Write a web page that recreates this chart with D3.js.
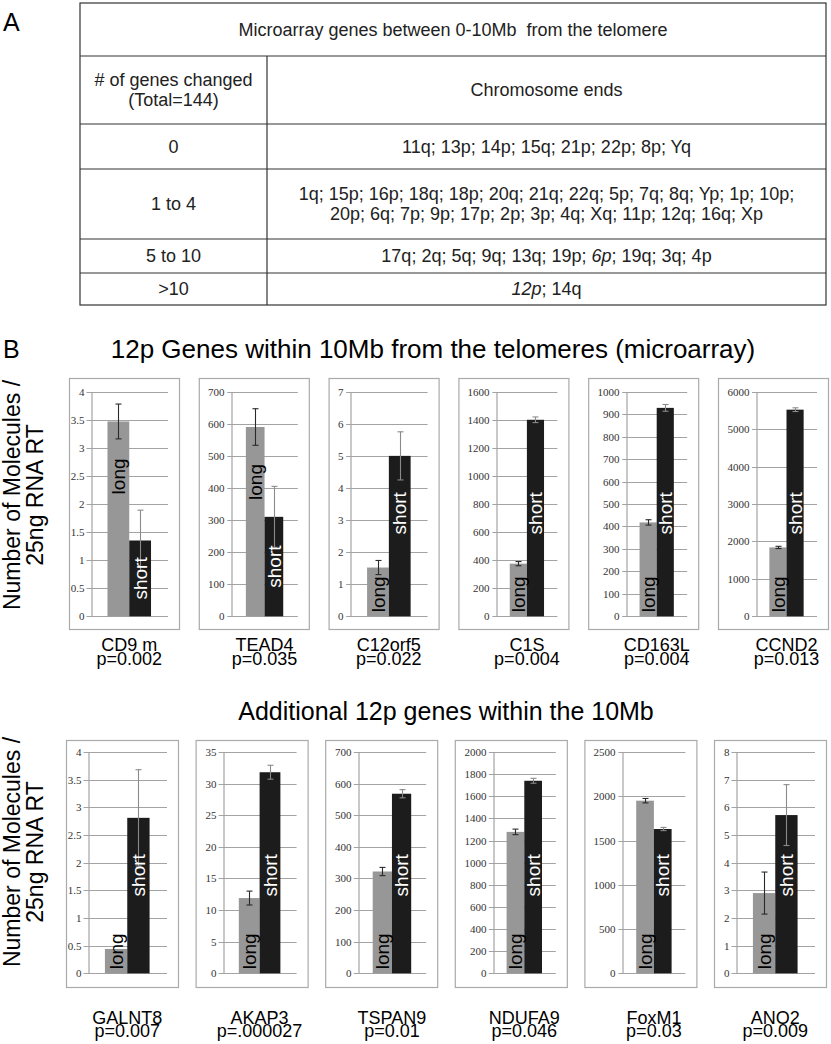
<!DOCTYPE html>
<html>
<head>
<meta charset="utf-8">
<script src="https://cdn.jsdelivr.net/npm/d3@7"></script>
<style>
  body { margin: 0; background: #fff; }
  svg { font-family: "Liberation Sans", Arial, sans-serif; }
</style>
</head>
<body>
<svg id="fig" width="831" height="1044"></svg>
<script>
// ---- panel A table ----
const tableTitle = "Microarray genes between 0-10Mb  from the telomere";
const colHeads = [["# of genes changed", "(Total=144)"], ["Chromosome ends"]];
const rowHeads = ["0", "1 to 4", "5 to 10", ">10"];
// _x_ marks italic text
const rowEnds = [
  ["11q; 13p; 14p; 15q; 21p; 22p; 8p; Yq"],
  ["1q; 15p; 16p; 18q; 18p; 20q; 21q; 22q; 5p; 7q; 8q; Yp; 1p; 10p;",
   "20p; 6q; 7p; 9p; 17p; 2p; 3p; 4q; Xq; 11p; 12q; 16q; Xp"],
  ["17q; 2q; 5q; 9q; 13q; 19p; _6p_; 19q; 3q; 4p"],
  ["_12p_; 14q"]
];

// ---- panel B, top row (microarray genes) ----
const topTitle = "12p Genes within 10Mb from the telomeres (microarray)";
const topGenes = ["CD9 m", "TEAD4", "C12orf5", "C1S", "CD163L", "CCND2"];
const topP = ["p=0.002", "p=0.035", "p=0.022", "p=0.004", "p=0.004", "p=0.013"];
const topLong = [3.47, 590, 1.52, 375, 418, 1840];
const topLongErr = [0.31, 57, 0.22, 15, 12, 30];
const topShort = [1.35, 310, 5.0, 1400, 928, 5520];
const topShortErr = [0.54, 95, 0.75, 20, 15, 50];
const topMax = [4, 700, 7, 1600, 1000, 6000];
const topStep = [0.5, 100, 1, 200, 100, 1000];

// ---- panel B, bottom row (additional genes) ----
const botTitle = "Additional 12p genes within the 10Mb";
const botGenes = ["GALNT8", "AKAP3", "TSPAN9", "NDUFA9", "FoxM1", "ANO2"];
const botP = ["p=0.007", "p=.000027", "p=0.01", "p=0.046", "p=0.03", "p=0.009"];
const botLong = [0.44, 11.9, 322, 1278, 1950, 2.9];
const botLongErr = [0, 1.1, 13, 25, 25, 0.76];
const botShort = [2.81, 31.8, 568, 1740, 1630, 5.72];
const botShortErr = [0.87, 1.1, 13, 22, 18, 1.1];
const botMax = [4, 35, 700, 2000, 2500, 8];
const botStep = [0.5, 5, 100, 200, 500, 1];

const series = ["long", "short"];
const yTitle = ["Number of Molecules /", "25ng RNA RT"];

const svg = d3.select("#fig");

// ---------- panel A ----------
svg.append("text").attr("x", 3).attr("y", 31).style("font-size", "25px").text("A");
svg.append("text").attr("x", 3).attr("y", 358).style("font-size", "25px").text("B");

const tx = [80, 267, 826];
const ty = [3, 56, 124, 169, 239, 273, 305];
const tab = svg.append("g").attr("stroke", "#333").attr("stroke-width", 1.2);
tab.append("rect").attr("x", tx[0]).attr("y", ty[0]).attr("width", tx[2] - tx[0]).attr("height", ty[6] - ty[0]).attr("fill", "none");
ty.slice(1, 6).forEach(y => tab.append("line").attr("x1", tx[0]).attr("x2", tx[2]).attr("y1", y).attr("y2", y));
tab.append("line").attr("x1", tx[1]).attr("x2", tx[1]).attr("y1", ty[1]).attr("y2", ty[6]);

const tfs = 18;
function cellText(lines, cx, y0, y1) {
  const lh = 20;
  const mid = (y0 + y1) / 2 - (lines.length - 1) * lh / 2;
  lines.forEach((ln, i) => {
    const t = svg.append("text").attr("x", cx).attr("y", mid + i * lh).attr("dy", "0.35em")
      .attr("text-anchor", "middle").style("font-size", tfs + "px").style("white-space", "pre").attr("fill", "#222");
    ln.split(/(_[^_]+_)/).filter(s => s.length).forEach(s => {
      if (s[0] === "_") t.append("tspan").style("font-style", "italic").text(s.slice(1, -1));
      else t.append("tspan").text(s);
    });
  });
}
cellText([tableTitle], (tx[0] + tx[2]) / 2, ty[0], ty[1]);
cellText(colHeads[0], (tx[0] + tx[1]) / 2, ty[1], ty[2]);
cellText(colHeads[1], (tx[1] + tx[2]) / 2, ty[1], ty[2]);
rowHeads.forEach((h, i) => {
  cellText([h], (tx[0] + tx[1]) / 2, ty[i + 2], ty[i + 3]);
  cellText(rowEnds[i], (tx[1] + tx[2]) / 2, ty[i + 2], ty[i + 3]);
});

// ---------- panel B ----------
svg.append("text").attr("x", 433).attr("y", 358).attr("text-anchor", "middle")
  .style("font-size", "26px").text(topTitle);
svg.append("text").attr("x", 446).attr("y", 720).attr("text-anchor", "middle")
  .style("font-size", "25px").text(botTitle);

function yAxisTitle(cy) {
  yTitle.forEach((s, i) => {
    svg.append("text").attr("transform", `translate(${12 + i * 23},${cy}) rotate(-90)`)
      .attr("dy", "0.35em").attr("text-anchor", "middle").style("font-size", "23px").text(s);
  });
}
yAxisTitle(495);
yAxisTitle(852);

const fmt = d3.format("~g");

function drawRow(cfg) {
  cfg.genes.forEach((gene, i) => {
    const bx = cfg.x0 + i * cfg.pitch, bw = cfg.bw;
    const g = svg.append("g");
    g.append("rect").attr("x", bx + 0.5).attr("y", cfg.boxTop + 0.5).attr("width", bw).attr("height", cfg.boxBot - cfg.boxTop)
      .attr("fill", "#fff").attr("stroke", "#aaa").attr("stroke-width", 1.2);

    const ticks = d3.range(0, cfg.max[i] + cfg.step[i] / 2, cfg.step[i]);
    // measure tick labels to place the plot area
    const probe = g.append("text").style("font-family", "'Liberation Serif', serif").style("font-size", "11px")
      .text(fmt(cfg.max[i]));
    const lw = probe.node().getComputedTextLength();
    probe.remove();
    const left = bx + 8 + lw + 8, right = bx + bw - 11;

    const y = d3.scaleLinear().domain([0, cfg.max[i]]).range([cfg.plotBot, cfg.plotTop]);
    const x = d3.scaleBand().domain([gene]).range([left, right]).paddingOuter(0.39).paddingInner(0);
    const xs = d3.scaleBand().domain(series).range([0, x.bandwidth()]);

    // gridlines
    g.selectAll("line.grid").data(ticks).join("line")
      .attr("x1", left - 4).attr("x2", right)
      .attr("y1", d => Math.round(y(d)) + 0.5).attr("y2", d => Math.round(y(d)) + 0.5)
      .attr("stroke", "#a3a3a3").attr("stroke-width", 1.2);
    // y axis
    const ax = g.append("g").attr("transform", `translate(${Math.round(left) + 0.5},0)`)
      .call(d3.axisLeft(y).tickValues(ticks).tickFormat(fmt).tickSize(0).tickPadding(7));
    ax.select(".domain").attr("stroke", "#a3a3a3").attr("stroke-width", 1.2);
    ax.selectAll("text").style("font-family", "'Liberation Serif', serif").style("font-size", "11px").attr("fill", "#333");

    const vals = [cfg.long[i], cfg.short[i]];
    const errs = [cfg.longErr[i], cfg.shortErr[i]];
    const cols = ["#979797", "#1c1c1c"];
    const errCols = ["#2a2a2a", "#8a8a8a"];

    g.selectAll("rect.bar").data(series).join("rect")
      .attr("x", (s) => x(gene) + xs(s)).attr("width", xs.bandwidth())
      .attr("y", (s, j) => y(vals[j])).attr("height", (s, j) => y(0) - y(vals[j]))
      .attr("fill", (s, j) => cols[j]);

    series.forEach((s, j) => {
      if (!errs[j]) return;
      const cx = Math.round(x(gene) + xs(s) + xs.bandwidth() / 2) + 0.5;
      const y1 = y(vals[j] + errs[j]), y2 = y(vals[j] - errs[j]);
      const eg = g.append("g").attr("stroke", errCols[j]).attr("stroke-width", 1.1);
      eg.append("line").attr("x1", cx).attr("x2", cx).attr("y1", y1).attr("y2", y2);
      [y1, y2].forEach(yy => eg.append("line").attr("x1", cx - 3).attr("x2", cx + 3).attr("y1", yy).attr("y2", yy));
    });

    // in-bar labels
    const hL = y(0) - y(vals[0]), hS = y(0) - y(vals[1]);
    let cL, cS;
    if (hS < 120) {
      cS = Math.max(hS / 2, 24);
      cL = hL > 150 ? hL - 55 : 22;
    } else {
      cS = Math.min(cfg.shortLab, hS - 28);
      cL = 22;
    }
    [cL, cS].forEach((c, j) => {
      const cx = x(gene) + xs(series[j]) + xs.bandwidth() / 2;
      g.append("text").attr("transform", `translate(${cx},${y(0) - c}) rotate(-90)`)
        .attr("dy", "0.35em").attr("text-anchor", "middle").style("font-size", "19px")
        .attr("fill", j ? "#fff" : "#000").text(series[j]);
    });

    // gene name + p value under the bars (tightly stacked, as in the source figure)
    const lc = x(gene) + x.bandwidth() / 2;
    g.append("text").attr("x", lc).attr("y", cfg.nameY).attr("text-anchor", "middle").style("font-size", "18px").text(gene);
    g.append("text").attr("x", lc).attr("y", cfg.nameY + cfg.pGap).attr("text-anchor", "middle").style("font-size", "18px").text(cfg.p[i]);
  });
}

drawRow({
  genes: topGenes, p: topP, long: topLong, longErr: topLongErr, short: topShort, shortErr: topShortErr,
  max: topMax, step: topStep, x0: 69, pitch: 129.8, bw: 110,
  boxTop: 378, boxBot: 629, plotTop: 391.7, plotBot: 616.3, nameY: 651, pGap: 13.6, shortLab: 103
});
drawRow({
  genes: botGenes, p: botP, long: botLong, longErr: botLongErr, short: botShort, shortErr: botShortErr,
  max: botMax, step: botStep, x0: 66, pitch: 129.6, bw: 112,
  boxTop: 740, boxBot: 987, plotTop: 752, plotBot: 973.3, nameY: 1024, pGap: 12.6, shortLab: 98
});
</script>
</body>
</html>
